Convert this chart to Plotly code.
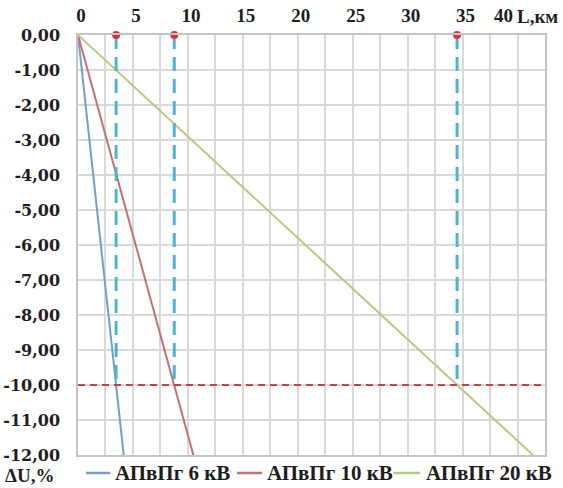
import plotly.graph_objects as go

# Data
L_6kv = [0, 4.16]
dU_6kv = [0, -12]
L_10kv = [0, 10.5]
dU_10kv = [0, -12]
L_20kv = [0, 41.4]
dU_20kv = [0, -12]

names = ["АПвПг 6 кВ", "АПвПг 10 кВ", "АПвПг 20 кВ"]
colors = ["#709FC8", "#C27272", "#B6CA7C"]

limit_dU = -10
L_limit = [3.47, 8.76, 34.5]

x_tickvals = [i * 2.5 for i in range(18)]
x_labels = ["0", "5", "10", "15", "20", "25", "30", "35", "40"]
y_tickvals = list(range(0, -13, -1))
y_ticktext = ["0,00", "-1,00", "-2,00", "-3,00", "-4,00", "-5,00", "-6,00",
              "-7,00", "-8,00", "-9,00", "-10,00", "-11,00", "-12,00"]

serif = "Liberation Serif"
wide_serif = "DejaVu Serif"
txt = "#1E1E1E"

# plot-area geometry (pixels)
W, H = 563, 488
PL, PR, PT, PB = 78, 545, 35, 455


def px_x(p):
    return (p - PL) / (PR - PL)


def px_y(p):
    return (PB - p) / (PB - PT)


# x tick text: bold labels every 5 km, last one drawn as annotation
x_ticktext = []
for v in x_tickvals:
    if v % 5 == 0 and v < 40:
        x_ticktext.append("<b>%d</b>" % v)
    else:
        x_ticktext.append("")

fig = go.Figure()

for Lx, dU, nm, c in zip([L_6kv, L_10kv, L_20kv], [dU_6kv, dU_10kv, dU_20kv], names, colors):
    fig.add_trace(go.Scatter(x=Lx, y=dU, mode="lines", name=nm,
                             line=dict(color=c, width=2), showlegend=False))

# horizontal limit line
fig.add_trace(go.Scatter(x=[0, 42.5], y=[limit_dU, limit_dU], mode="lines",
                         line=dict(color="#C8413E", width=2, dash="7px,5px"),
                         showlegend=False, hoverinfo="skip"))

# vertical dashed lines
for xv in L_limit:
    fig.add_trace(go.Scatter(x=[xv, xv], y=[0, limit_dU], mode="lines",
                             line=dict(color="#4FB3CF", width=3, dash="14px,8px"),
                             showlegend=False, hoverinfo="skip"))

# red dots
fig.add_trace(go.Scatter(x=L_limit, y=[0] * len(L_limit), mode="markers",
                         marker=dict(color="#E0303A", size=8),
                         cliponaxis=False, showlegend=False, hoverinfo="skip"))

# custom legend (bottom)
legend_line_px = [(86, 110), (237, 262), (393, 420)]
legend_text_px = [113, 265, 424]
legend_y = 473
shapes = []
annotations = []
for (a, b), tx, nm, c in zip(legend_line_px, legend_text_px, names, colors):
    shapes.append(dict(type="line", xref="paper", yref="paper",
                       x0=px_x(a), x1=px_x(b), y0=px_y(legend_y), y1=px_y(legend_y),
                       line=dict(color=c, width=2.5)))
    annotations.append(dict(text="<b>%s</b>" % nm, xref="paper", yref="paper",
                            x=px_x(tx), y=px_y(legend_y), xanchor="left", yanchor="middle",
                            showarrow=False, font=dict(family=serif, size=21, color=txt)))

# last x label "40" shifted left to make room for the axis title
annotations.append(dict(text="<b>%s</b>" % x_labels[-1], xref="x", yref="paper",
                        x=40, y=1, xanchor="center", yanchor="bottom", xshift=-14, yshift=7,
                        showarrow=False, font=dict(family=serif, size=19, color=txt)))
annotations.append(dict(text="<b>L,км</b>", xref="paper", yref="paper",
                        x=px_x(515), y=px_y(17), xanchor="left", yanchor="middle",
                        showarrow=False, font=dict(family=serif, size=19, color=txt)))
annotations.append(dict(text="<b>ΔU,%</b>", xref="paper", yref="paper",
                        x=px_x(3), y=px_y(475), xanchor="left", yanchor="middle",
                        showarrow=False, font=dict(family=serif, size=19, color=txt)))

fig.update_layout(
    width=W, height=H,
    margin=dict(l=PL, r=W - PR, t=PT, b=H - PB),
    paper_bgcolor="white", plot_bgcolor="white",
    font=dict(family=serif, size=15, color=txt),
    showlegend=False,
    xaxis=dict(range=[0, 42.5], side="top", tickvals=x_tickvals, ticktext=x_ticktext,
               showgrid=True, gridcolor="#D9D9D9", gridwidth=1.5, zeroline=False,
               showline=True, linecolor="#C4C4C4", linewidth=1.5, mirror=True,
               ticks="", ticklabelstandoff=4, ticklabelshift=3, automargin=False,
               tickfont=dict(family=serif, size=19, color=txt),
               fixedrange=True),
    yaxis=dict(range=[-12, 0], tickvals=y_tickvals,
               ticktext=["<b>%s</b>" % t for t in y_ticktext],
               showgrid=True, gridcolor="#D9D9D9", gridwidth=1.5, zeroline=False,
               showline=True, linecolor="#C4C4C4", linewidth=1.5, mirror=True,
               ticks="", ticklabelstandoff=13, automargin=False,
               tickfont=dict(family=wide_serif, size=16, color=txt),
               fixedrange=True),
    shapes=shapes,
    annotations=annotations,
)

fig.write_html("out.html")
